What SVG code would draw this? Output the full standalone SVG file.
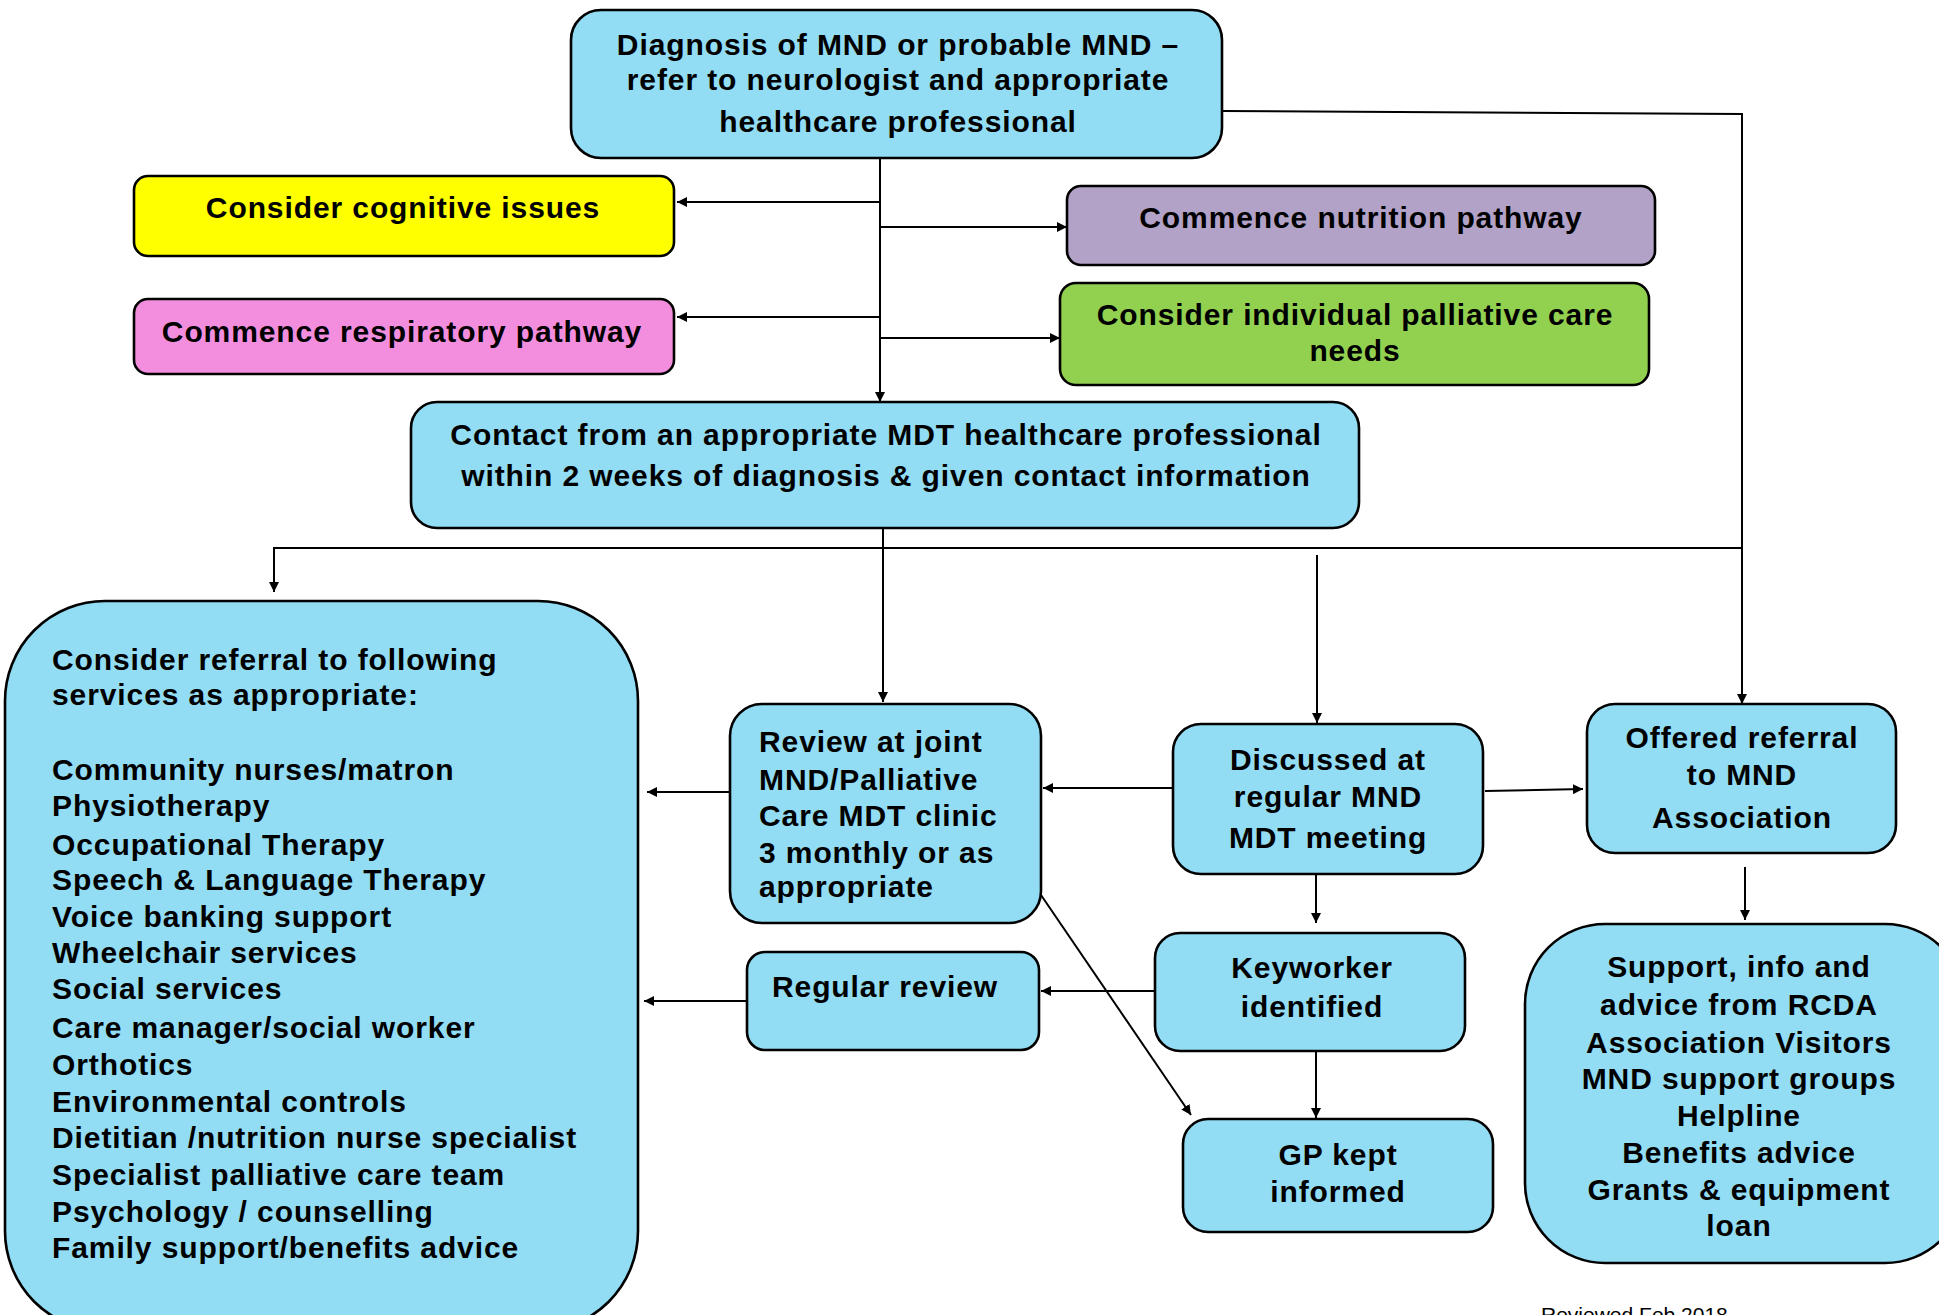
<svg xmlns="http://www.w3.org/2000/svg" width="1939" height="1315" viewBox="0 0 1939 1315">
<style>
.box{stroke:#000;stroke-width:2.6}
.blue{fill:#92DCF4}
.t{font-family:"Liberation Sans",Arial,sans-serif;font-weight:bold;font-size:30px;letter-spacing:0.9px;fill:#000}
.c{text-anchor:middle}
.con{fill:none;stroke:#000;stroke-width:2}
.foot{font-family:"Liberation Sans",Arial,sans-serif;font-size:21px;fill:#000}
</style>
<defs>
<marker id="ah" viewBox="0 0 10 10" refX="10" refY="5" markerWidth="10" markerHeight="10" markerUnits="userSpaceOnUse" orient="auto">
<path d="M0,0 L10,5 L0,10 z" fill="#000"/>
</marker>
</defs>
<rect width="1939" height="1315" fill="#fff"/>

<g id="connectors">
<path class="con" d="M880,153 V402" marker-end="url(#ah)"/>
<path class="con" d="M881,202 H677" marker-end="url(#ah)"/>
<path class="con" d="M881,317 H677" marker-end="url(#ah)"/>
<path class="con" d="M881,227 H1067" marker-end="url(#ah)"/>
<path class="con" d="M880,338 H1060" marker-end="url(#ah)"/>
<path class="con" d="M1222,111 L1742,114 V704" marker-end="url(#ah)"/>
<path class="con" d="M883,528 V702" marker-end="url(#ah)"/>
<path class="con" d="M1742,548 H274 V592" marker-end="url(#ah)"/>
<path class="con" d="M1317,555 V723" marker-end="url(#ah)"/>
<path class="con" d="M1173,788 H1043" marker-end="url(#ah)"/>
<path class="con" d="M1485,791 L1583,789" marker-end="url(#ah)"/>
<path class="con" d="M730,792 H647" marker-end="url(#ah)"/>
<path class="con" d="M747,1001 H644" marker-end="url(#ah)"/>
<path class="con" d="M1155,991 H1041" marker-end="url(#ah)"/>
<path class="con" d="M1316,874 V923" marker-end="url(#ah)"/>
<path class="con" d="M1316,1051 V1118" marker-end="url(#ah)"/>
<path class="con" d="M1041,895 L1191,1115" marker-end="url(#ah)"/>
<path class="con" d="M1745,867 V920" marker-end="url(#ah)"/>
</g>

<g id="n-diagnosis">
<rect class="box blue" x="571" y="10" width="651" height="148" rx="30"/>
<text class="t c" x="898" y="55">Diagnosis of MND or probable MND –</text>
<text class="t c" x="898" y="90">refer to neurologist and appropriate</text>
<text class="t c" x="898" y="132">healthcare professional</text>
</g>

<g id="n-cognitive">
<rect class="box" fill="#FFFF00" x="134" y="176" width="540" height="80" rx="14"/>
<text class="t c" x="403" y="218">Consider cognitive issues</text>
</g>

<g id="n-respiratory">
<rect class="box" fill="#F28EDD" x="134" y="299" width="540" height="75" rx="14"/>
<text class="t c" x="402" y="342">Commence respiratory pathway</text>
</g>

<g id="n-nutrition">
<rect class="box" fill="#B2A2C7" x="1067" y="186" width="588" height="79" rx="14"/>
<text class="t c" x="1361" y="228">Commence nutrition pathway</text>
</g>

<g id="n-palliative">
<rect class="box" fill="#92D050" x="1060" y="283" width="589" height="102" rx="16"/>
<text class="t c" x="1355" y="325">Consider individual palliative care</text>
<text class="t c" x="1355" y="361">needs</text>
</g>

<g id="n-contact">
<rect class="box blue" x="411" y="402" width="948" height="126" rx="26"/>
<text class="t c" x="886" y="445">Contact from an appropriate MDT healthcare professional</text>
<text class="t c" x="886" y="486">within 2 weeks of diagnosis &amp; given contact information</text>
</g>

<g id="n-referral">
<rect class="box blue" x="5" y="601" width="633" height="730" rx="100"/>
<text class="t" x="52" y="670">Consider referral to following</text>
<text class="t" x="52" y="705">services as appropriate:</text>
<text class="t" x="52" y="780">Community nurses/matron</text>
<text class="t" x="52" y="816">Physiotherapy</text>
<text class="t" x="52" y="855">Occupational Therapy</text>
<text class="t" x="52" y="890">Speech &amp; Language Therapy</text>
<text class="t" x="52" y="927">Voice banking support</text>
<text class="t" x="52" y="963">Wheelchair services</text>
<text class="t" x="52" y="999">Social services</text>
<text class="t" x="52" y="1038">Care manager/social worker</text>
<text class="t" x="52" y="1075">Orthotics</text>
<text class="t" x="52" y="1112">Environmental controls</text>
<text class="t" x="52" y="1148">Dietitian /nutrition nurse specialist</text>
<text class="t" x="52" y="1185">Specialist palliative care team</text>
<text class="t" x="52" y="1222">Psychology / counselling</text>
<text class="t" x="52" y="1258">Family support/benefits advice</text>
</g>

<g id="n-review">
<rect class="box blue" x="730" y="704" width="311" height="219" rx="32"/>
<text class="t" x="759" y="752">Review at joint</text>
<text class="t" x="759" y="790">MND/Palliative</text>
<text class="t" x="759" y="826">Care MDT clinic</text>
<text class="t" x="759" y="863">3 monthly or as</text>
<text class="t" x="759" y="897">appropriate</text>
</g>

<g id="n-regular">
<rect class="box blue" x="747" y="952" width="292" height="98" rx="18"/>
<text class="t" x="772" y="997">Regular review</text>
</g>

<g id="n-discussed">
<rect class="box blue" x="1173" y="724" width="310" height="150" rx="28"/>
<text class="t c" x="1328" y="770">Discussed at</text>
<text class="t c" x="1328" y="807">regular MND</text>
<text class="t c" x="1328" y="848">MDT meeting</text>
</g>

<g id="n-offered">
<rect class="box blue" x="1587" y="704" width="309" height="149" rx="28"/>
<text class="t c" x="1742" y="748">Offered referral</text>
<text class="t c" x="1742" y="785">to MND</text>
<text class="t c" x="1742" y="828">Association</text>
</g>

<g id="n-keyworker">
<rect class="box blue" x="1155" y="933" width="310" height="118" rx="25"/>
<text class="t c" x="1312" y="978">Keyworker</text>
<text class="t c" x="1312" y="1017">identified</text>
</g>

<g id="n-gp">
<rect class="box blue" x="1183" y="1119" width="310" height="113" rx="25"/>
<text class="t c" x="1338" y="1165">GP kept</text>
<text class="t c" x="1338" y="1202">informed</text>
</g>

<g id="n-support">
<rect class="box blue" x="1525" y="924" width="440" height="339" rx="80"/>
<text class="t c" x="1739" y="977">Support, info and</text>
<text class="t c" x="1739" y="1015">advice from RCDA</text>
<text class="t c" x="1739" y="1053">Association Visitors</text>
<text class="t c" x="1739" y="1089">MND support groups</text>
<text class="t c" x="1739" y="1126">Helpline</text>
<text class="t c" x="1739" y="1163">Benefits advice</text>
<text class="t c" x="1739" y="1200">Grants &amp; equipment</text>
<text class="t c" x="1739" y="1236">loan</text>
</g>

<text class="foot" x="1541" y="1322">Reviewed Feb 2018</text>
</svg>
